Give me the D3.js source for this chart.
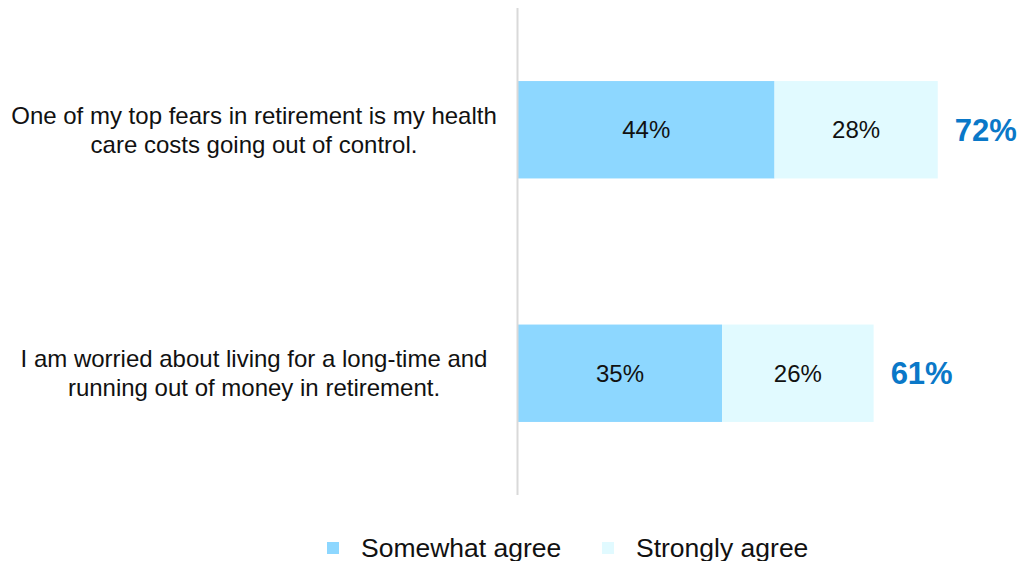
<!DOCTYPE html>
<html>
<head>
<meta charset="utf-8">
<script src="https://cdn.jsdelivr.net/npm/d3@7"></script>
<style>
  body { margin: 0; background: #fff; }
  text { font-family: "Liberation Sans", Arial, sans-serif; }
</style>
</head>
<body>
<div id="chart"></div>
<script>
// survey statements (two lines each)
var categories = [
  ["One of my top fears in retirement is my health", "care costs going out of control."],
  ["I am worried about living for a long-time and", "running out of money in retirement."]
];
var somewhat = [44, 35];
var strongly = [28, 26];
var seriesNames = ["Somewhat agree", "Strongly agree"];

var width = 1019,
    height = 561;

var colors = ["#8dd7ff", "#e1faff"];

var svg = d3.select("#chart").append("svg")
    .attr("width", width)
    .attr("height", height);

var x = d3.scaleLinear()
    .domain([0, 86])
    .range([518, 518 + 86 * 5.83]);

var y = d3.scaleBand()
    .domain(d3.range(categories.length))
    .range([8, 495])
    .paddingInner(0.6)
    .paddingOuter(0.3);

// stacked bars
var rows = categories.map(function(c, i) {
  return { i: i, vals: [somewhat[i], strongly[i]] };
});

var g = svg.append("g");

rows.forEach(function(r) {
  var start = 0;
  r.vals.forEach(function(v, k) {
    g.append("rect")
      .attr("x", x(start))
      .attr("y", y(r.i))
      .attr("width", x(start + v) - x(start))
      .attr("height", y.bandwidth())
      .attr("fill", colors[k]);
    g.append("text")
      .attr("x", (x(start) + x(start + v)) / 2)
      .attr("y", y(r.i) + y.bandwidth() / 2)
      .attr("dy", "0.35em")
      .attr("text-anchor", "middle")
      .attr("font-size", 24)
      .attr("fill", "#111")
      .text(v + "%");
    start += v;
  });
  // total
  g.append("text")
    .attr("x", x(start) + 17)
    .attr("y", y(r.i) + y.bandwidth() / 2)
    .attr("dy", "0.35em")
    .attr("font-size", 31)
    .attr("font-weight", "bold")
    .attr("fill", "#0a78c8")
    .text(start + "%");
});

// vertical axis line
svg.append("line")
  .attr("x1", 517.5).attr("x2", 517.5)
  .attr("y1", 8).attr("y2", 495)
  .attr("stroke", "#d9d9d9")
  .attr("stroke-width", 2);

// category labels
categories.forEach(function(lines, i) {
  var cy = y(i) + y.bandwidth() / 2;
  var t = svg.append("text")
    .attr("text-anchor", "middle")
    .attr("font-size", 24)
    .attr("fill", "#111");
  lines.forEach(function(l, j) {
    t.append("tspan")
      .attr("x", 254)
      .attr("y", cy + (j - (lines.length - 1) / 2) * 29)
      .attr("dy", "0.35em")
      .text(l);
  });
});

// legend
var legendX = [327, 602];
seriesNames.forEach(function(name, k) {
  svg.append("rect")
    .attr("x", legendX[k])
    .attr("y", 542)
    .attr("width", 12)
    .attr("height", 12)
    .attr("fill", colors[k]);
  svg.append("text")
    .attr("x", legendX[k] + 34)
    .attr("y", 548)
    .attr("dy", "0.35em")
    .attr("font-size", 26.5)
    .attr("fill", "#111")
    .text(name);
});
</script>
</body>
</html>
